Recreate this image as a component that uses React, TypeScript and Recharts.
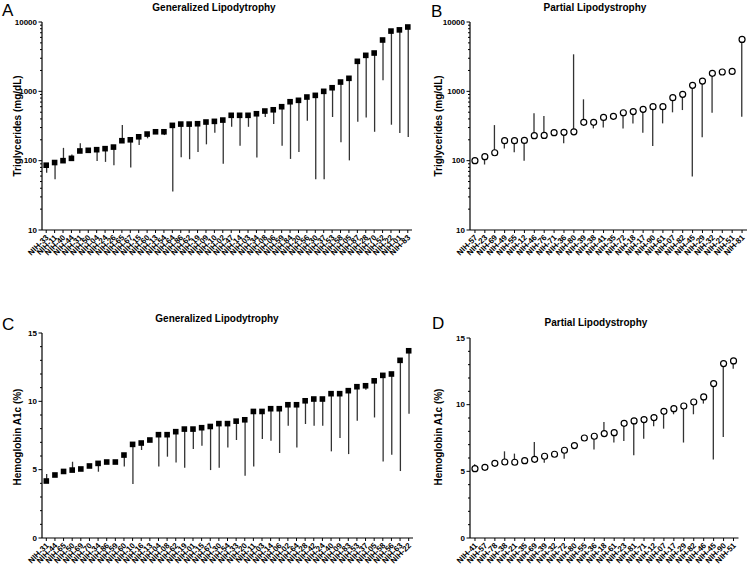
import React from "react"
import { ComposedChart, Bar, Line, XAxis, YAxis } from "recharts"

const FONT = '"Liberation Sans", Arial, Helvetica, sans-serif'

// A: generalized lipodystrophy, triglycerides (mg/dL)
const glTgLabels = [
  "NIH-33", "NIH-11", "NIH-40", "NIH-44", "NIH-31", "NIH-50", "NIH-04", "NIH-24", "NIH-26", "NIH-65", "NIH-67",
  "NIH-15", "NIH-60", "NIH-13", "NIH-54", "NIH-64", "NIH-86", "NIH-62", "NIH-19", "NIH-09", "NIH-10", "NIH-02",
  "NIH-47", "NIH-14", "NIH-03", "NIH-34", "NIH-08", "NIH-06", "NIH-59", "NIH-84", "NIH-20", "NIH-56", "NIH-30",
  "NIH-37", "NIH-53", "NIH-58", "NIH-05", "NIH-87", "NIH-28", "NIH-70", "NIH-52", "NIH-22", "NIH-01", "NIH-83",
]
const glTgValues = [
  86, 94, 100, 108, 138, 141, 144, 149, 157, 194, 200,
  221, 242, 261, 261, 323, 337, 337, 341, 361, 369, 385,
  451, 451, 451, 475, 520, 542, 600, 708, 742, 828, 875,
  1000, 1127, 1362, 1541, 2710, 3305, 3570, 5500, 7400, 7700, 8470,
]
const glTgOther = [
  67, 54, 153, 123, 178, 141, 99, 96, 86, 326, 80,
  168, 210, 261, 234, 36, 112, 105, 133, 172, 253, 90,
  308, 164, 308, 111, 426, 337, 164, 106, 133, 375, 54,
  54, 426, 184, 101, 364, 421, 261, 1450, 330, 250, 219,
]

// B: partial lipodystrophy, triglycerides (mg/dL)
const plTgLabels = [
  "NIH-57", "NIH-23", "NIH-69", "NIH-49", "NIH-55", "NIH-12", "NIH-46", "NIH-76", "NIH-71", "NIH-36",
  "NIH-80", "NIH-39", "NIH-38", "NIH-41", "NIH-35", "NIH-72", "NIH-18", "NIH-17", "NIH-90", "NIH-61",
  "NIH-07", "NIH-82", "NIH-45", "NIH-29", "NIH-32", "NIH-21", "NIH-51", "NIH-81",
]
const plTgValues = [
  100, 114, 130, 194, 194, 196, 229, 231, 253, 256,
  261, 357, 357, 421, 436, 491, 511, 550, 600, 600,
  809, 905, 1222, 1408, 1820, 1899, 1940, 5600,
]
const plTgOther = [
  100, 88, 326, 150, 132, 100, 482, 440, 253, 178,
  3420, 767, 292, 302, 385, 292, 345, 253, 163, 345,
  498, 537, 59, 217, 491, 1899, 1718, 430,
]

// C: generalized lipodystrophy, hemoglobin A1c (%)
const glA1cLabels = [
  "NIH-31", "NIH-44", "NIH-65", "NIH-50", "NIH-69", "NIH-70", "NIH-34", "NIH-86", "NIH-59", "NIH-60", "NIH-10",
  "NIH-16", "NIH-13", "NIH-04", "NIH-08", "NIH-62", "NIH-19", "NIH-01", "NIH-15", "NIH-67", "NIH-30", "NIH-54",
  "NIH-33", "NIH-20", "NIH-11", "NIH-03", "NIH-14", "NIH-06", "NIH-02", "NIH-64", "NIH-28", "NIH-42", "NIH-24",
  "NIH-40", "NIH-09", "NIH-83", "NIH-53", "NIH-37", "NIH-05", "NIH-58", "NIH-56", "NIH-63", "NIH-22",
]
const glA1cValues = [
  4.17, 4.61, 4.87, 4.97, 5.05, 5.27, 5.46, 5.56, 5.56, 6.07, 6.85,
  6.95, 7.17, 7.56, 7.56, 7.78, 7.97, 7.97, 8.07, 8.16, 8.37, 8.37,
  8.55, 8.65, 9.26, 9.26, 9.46, 9.46, 9.75, 9.75, 10.04, 10.17, 10.17,
  10.56, 10.56, 10.78, 11.07, 11.14, 11.5, 11.9, 12.0, 13.0, 13.7,
]
const glA1cOther = [
  4.68, 4.61, 4.87, 5.58, 5.05, 5.27, 4.85, 5.56, 5.56, 5.24, 3.95,
  6.44, 7.17, 5.24, 5.95, 5.53, 5.14, 6.51, 6.75, 4.97, 5.14, 6.63,
  7.17, 4.56, 5.24, 7.24, 7.12, 6.22, 8.22, 6.63, 8.34, 8.21, 8.21,
  6.34, 7.31, 6.14, 8.58, 10.85, 8.82, 5.6, 6.1, 4.9, 9.1,
]

// D: partial lipodystrophy, hemoglobin A1c (%)
const plA1cLabels = [
  "NIH-41", "NIH-57", "NIH-78", "NIH-38", "NIH-21", "NIH-35", "NIH-69", "NIH-39", "NIH-32", "NIH-72",
  "NIH-80", "NIH-55", "NIH-36", "NIH-18", "NIH-61", "NIH-23", "NIH-81", "NIH-71", "NIH-12", "NIH-07",
  "NIH-17", "NIH-29", "NIH-82", "NIH-46", "NIH-45", "NIH-90", "NIH-51",
]
const plA1cValues = [
  5.2, 5.3, 5.6, 5.7, 5.68, 5.8, 5.9, 6.13, 6.28, 6.58,
  6.93, 7.5, 7.63, 7.83, 7.9, 8.6, 8.78, 8.88, 9.03, 9.5,
  9.7, 9.9, 10.2, 10.58, 11.58, 13.08, 13.28,
]
const plA1cOther = [
  5.53, 5.45, 5.6, 6.5, 6.33, 5.8, 7.2, 5.65, 6.28, 5.95,
  6.93, 7.5, 6.63, 8.7, 7.16, 7.28, 6.2, 7.45, 8.38, 8.2,
  9.28, 7.16, 9.28, 10.08, 5.88, 7.58, 12.7,
]

const logTicks = [10, 20, 30, 40, 50, 60, 70, 80, 90, 100, 200, 300, 400, 500, 600, 700, 800, 900,
  1000, 2000, 3000, 4000, 5000, 6000, 7000, 8000, 9000, 10000]
const logMajor = [10, 100, 1000, 10000]
const linTicks = [0, 1, 2, 3, 4, 5, 6, 7, 8, 9, 10, 11, 12, 13, 14, 15]
const linMajor = [0, 5, 10, 15]

function buildRows(labels: string[], values: number[], other: number[]) {
  return labels.map((name, i) => ({
    name,
    value: values[i],
    range: [Math.min(values[i], other[i]), Math.max(values[i], other[i])],
  }))
}

const YW = 40
const MT = 10
const XH = 40
const MR = 4

const Square = (props: any) => {
  const { cx, cy } = props
  if (cx == null || cy == null) return null
  return <rect x={cx - 2.8} y={cy - 2.8} width={5.6} height={5.6} fill="#000" />
}

const Ring = (props: any) => {
  const { cx, cy } = props
  if (cx == null || cy == null) return null
  return <circle cx={cx} cy={cy} r={3} fill="#fff" stroke="#000" strokeWidth={1.2} />
}

interface PanelProps {
  rows: any[]
  x0: number
  y0: number
  w: number
  h: number
  log?: boolean
  marker: any
}

function Panel({ rows, x0, y0, w, h, log, marker }: PanelProps) {
  const ticks = log ? logTicks : linTicks
  const major = log ? logMajor : linMajor
  const axisY = MT + h

  const YTick = (props: any) => {
    const { y, payload } = props
    const isMajor = major.includes(payload.value)
    return (
      <g>
        <line x1={YW - (isMajor ? 3.5 : 2)} x2={YW} y1={y} y2={y} stroke="#000" strokeWidth={1} />
        {isMajor && (
          <text x={YW - 5} y={y} dy="0.35em" textAnchor="end" fontSize={8} fontWeight="bold" fontFamily={FONT} fill="#000">
            {payload.value}
          </text>
        )}
      </g>
    )
  }

  const XTick = (props: any) => {
    const { x, payload } = props
    const ax = x + 3
    const ay = axisY + 8
    return (
      <g>
        <line x1={x} x2={x} y1={axisY} y2={axisY + 3} stroke="#000" strokeWidth={1} />
        <text
          x={ax}
          y={ay}
          textAnchor="end"
          fontSize={8}
          fontWeight="bold"
          fontFamily={FONT}
          fill="#000"
          transform={`rotate(-45 ${ax} ${ay})`}
        >
          {payload.value}
        </text>
      </g>
    )
  }

  return (
    <div style={{ position: "absolute", left: x0 - YW, top: y0 - MT }}>
      <ComposedChart
        width={YW + w + MR}
        height={MT + h + XH}
        data={rows}
        margin={{ top: MT, right: MR, bottom: 0, left: 0 }}
        barCategoryGap={0}
      >
        <XAxis dataKey="name" interval={0} height={XH} tick={XTick} tickLine={false} axisLine={{ stroke: "#000", strokeWidth: 1.2 }} />
        <YAxis
          width={YW}
          type="number"
          scale={log ? "log" : "linear"}
          domain={log ? [10, 10000] : [0, 15]}
          ticks={ticks}
          interval={0}
          allowDataOverflow
          tick={YTick}
          tickLine={false}
          axisLine={{ stroke: "#000", strokeWidth: 1.2 }}
        />
        <Bar dataKey="range" barSize={1.3} fill="#333" isAnimationActive={false} />
        <Line dataKey="value" stroke="none" dot={marker} activeDot={false} isAnimationActive={false} />
      </ComposedChart>
    </div>
  )
}

export default function App() {
  const titleStyle = { fontFamily: FONT, fontWeight: "bold" as const, fontSize: 10, fill: "#000" }
  const letterStyle = { fontFamily: FONT, fontSize: 17, fill: "#000" }
  return (
    <div style={{ position: "absolute", left: 0, top: 0, width: 750, height: 568, background: "#fff", overflow: "hidden" }}>
      <Panel rows={buildRows(glTgLabels, glTgValues, glTgOther)} x0={41.5} y0={22} w={370} h={208} log marker={Square} />
      <Panel rows={buildRows(plTgLabels, plTgValues, plTgOther)} x0={470} y0={22} w={277} h={208} log marker={Ring} />
      <Panel rows={buildRows(glA1cLabels, glA1cValues, glA1cOther)} x0={41.5} y0={332.5} w={371} h={205} marker={Square} />
      <Panel rows={buildRows(plA1cLabels, plA1cValues, plA1cOther)} x0={469.5} y0={337.5} w={268.5} h={200} marker={Ring} />
      <svg width={750} height={568} style={{ position: "absolute", left: 0, top: 0, pointerEvents: "none" }}>
        <text x={2} y={16} {...letterStyle}>A</text>
        <text x={431} y={17} {...letterStyle}>B</text>
        <text x={2} y={330} {...letterStyle}>C</text>
        <text x={432} y={329} {...letterStyle}>D</text>
        <text x={214} y={11} textAnchor="middle" {...titleStyle}>Generalized Lipodytrophy</text>
        <text x={595} y={11} textAnchor="middle" {...titleStyle}>Partial Lipodystrophy</text>
        <text x={217} y={322} textAnchor="middle" {...titleStyle}>Generalized Lipodytrophy</text>
        <text x={596} y={326} textAnchor="middle" {...titleStyle}>Partial Lipodystrophy</text>
        <text transform="translate(21 126) rotate(-90)" textAnchor="middle" {...titleStyle}>Triglycerides (mg/dL)</text>
        <text transform="translate(442 126) rotate(-90)" textAnchor="middle" {...titleStyle}>Triglycerides (mg/dL)</text>
        <text transform="translate(21 437) rotate(-90)" textAnchor="middle" {...titleStyle}>Hemoglobin A1c (%)</text>
        <text transform="translate(442 437) rotate(-90)" textAnchor="middle" {...titleStyle}>Hemoglobin A1c (%)</text>
      </svg>
    </div>
  )
}
